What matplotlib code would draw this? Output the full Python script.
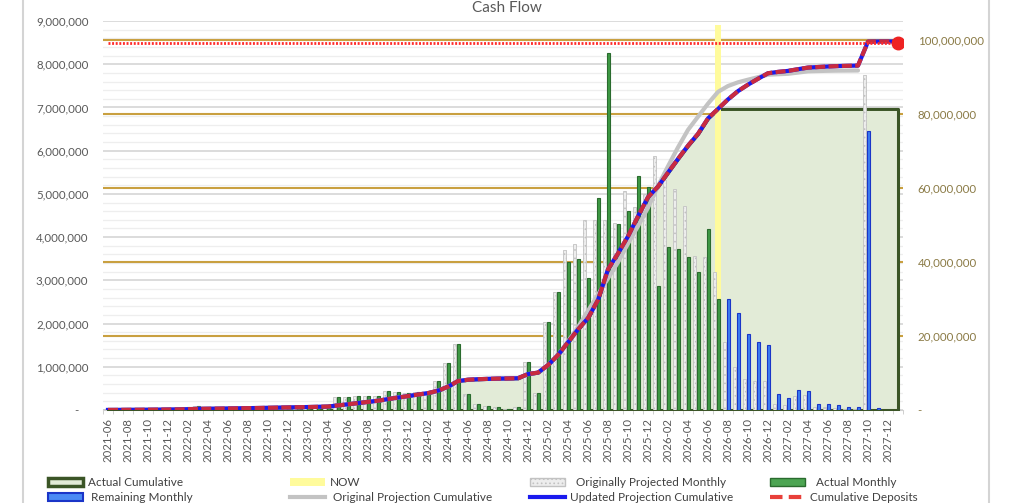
import numpy as np
import pandas as pd
import matplotlib
matplotlib.use('Agg')
import matplotlib.pyplot as plt
from matplotlib.lines import Line2D
from matplotlib.patches import Patch
from matplotlib.ticker import FuncFormatter, MultipleLocator

plt.rcParams['font.family'] = ['Lato', 'DejaVu Sans']
plt.rcParams['hatch.linewidth'] = 0.7

# --- data (values in millions) ---
months = pd.period_range('2021-06', '2028-01', freq='M').strftime('%Y-%m').tolist()

# Actual Monthly, 2021-06 .. 2026-07
actual_monthly = [
    0.02, 0.01, 0.02, 0.01, 0.02, 0.02, 0.03, 0.03, 0.06, 0.09, 0.03, 0.03,
    0.04, 0.04, 0.05, 0.04, 0.05, 0.05, 0.05, 0.06, 0.05, 0.06, 0.07,
    0.31, 0.31, 0.32, 0.32, 0.32, 0.44, 0.42, 0.39, 0.42, 0.38, 0.66, 1.08, 1.52,
    0.36, 0.14, 0.09, 0.08, 0.03, 0.07,
    1.12, 0.39, 2.03, 2.72, 3.43, 3.49, 3.06, 4.91, 8.27, 4.31, 4.61, 5.42, 5.17,
    2.87, 3.77, 3.72, 3.55, 3.20, 4.18, 2.56,
]
# Remaining Monthly, 2026-08 .. 2028-01
remaining_monthly = [
    2.57, 2.25, 1.75, 1.58, 1.50, 0.36, 0.27, 0.46, 0.44, 0.15, 0.14, 0.12,
    0.07, 0.06, 6.46, 0.04, 0.01, 0.0,
]
# Originally Projected Monthly: same as actual up to 2025-03, then
projected_later = [
    3.70, 3.84, 4.40, 4.40, 4.40, 4.32, 5.07, 4.70, 5.00,
    5.88, 5.32, 5.11, 4.72, 3.56, 3.53, 3.19, 1.58, 1.00, 0.71, 0.67, 0.67,
    0.13, 0.12, 0.33, 0.34, 0.08, 0.06, 0.04, 0.02, 0.02, 7.75, 0.0, 0.0,
    0.0,
]
projected_monthly = actual_monthly[:46] + projected_later
orig_line_end = '2027-09'
now_month = '2026-07'
now_height = 104.0
deposit_target = 99.3

# --- derived series ---
M = 1e6
x = np.arange(len(months))
n_act = len(actual_monthly)
actual = np.array(actual_monthly) * M
remaining = np.array(remaining_monthly) * M
projected = np.array(projected_monthly) * M
updated_cum = np.cumsum(np.concatenate([actual, remaining]))
actual_cum = updated_cum.copy()
actual_cum[n_act:] = actual_cum[n_act - 1]
n_orig = months.index(orig_line_end) + 1
orig_cum = np.cumsum(projected)[:n_orig]
now_i = months.index(now_month)

# --- figure ---
W, H = 1024, 503
fig = plt.figure(figsize=(W / 100, H / 100), dpi=100)
ax = fig.add_axes([103 / W, 1 - 410 / H, 800 / W, 389 / H])
ax_r = ax.twinx()
ax_b = ax.twinx()
ax_l = ax.twinx()
for i, a in enumerate([ax, ax_r, ax_b, ax_l]):
    a.set_zorder(i)
    for s in a.spines.values():
        s.set_visible(False)
    if i > 0:
        a.patch.set_visible(False)
ax.spines['bottom'].set_visible(True)
ax.spines['bottom'].set_color('#d0d0d0')

left_max = 9 * M
right_max = 105.14 * M
ax.set_xlim(-0.5, len(months) - 0.5)
ax.set_ylim(0, left_max)
ax_b.set_ylim(0, left_max)
ax_r.set_ylim(0, right_max)
ax_l.set_ylim(0, right_max)

fmt = FuncFormatter(lambda v, p: '-   ' if v == 0 else f'{v:,.0f}')

# left axis: grey grid + labels
ax.yaxis.set_major_locator(MultipleLocator(1 * M))
ax.yaxis.set_minor_locator(MultipleLocator(0.2 * M))
ax.yaxis.set_major_formatter(fmt)
ax.grid(axis='y', which='major', color='#d9d9d9', lw=1.3)
ax.grid(axis='y', which='minor', color='#eeeeee', lw=0.9)
ax.tick_params(axis='y', which='both', length=0, pad=10.5, labelsize=8.3,
               labelcolor='#595959')

# x axis
ax.set_xticks(x[::2])
ax.set_xticklabels(months[::2], rotation=90)
ax.set_xticks(np.arange(-0.5, len(months), 1), minor=True)
ax.tick_params(axis='x', which='major', length=0, pad=6, labelsize=8.2,
               labelcolor='#595959')
ax.tick_params(axis='x', which='minor', length=3, color='#c8c8c8')

# right axis: gold grid, area, NOW
right_ticks = np.arange(0, 101, 20) * M
ax_r.set_yticks(right_ticks)
ax_r.yaxis.set_major_formatter(fmt)
ax_r.tick_params(axis='y', length=0, pad=10.5, labelsize=8.3, labelcolor='#8a7a45')
for v in right_ticks[1:]:
    ax_r.axhline(v, color='#c9a040', lw=1.5, zorder=1)
ax_r.fill_between(x, 0, actual_cum, facecolor='#e2ebd7', edgecolor='#3b5526',
                  lw=2.2, zorder=2)
ax_r.bar(now_i, now_height * M, width=0.6, color='#fffb9c', zorder=3)

# bars
ax_b.set_yticks([])
ax_b.bar(x - 0.38, projected, width=0.28, facecolor='#ededed',
         edgecolor='#c2c2c2', hatch='....', lw=0.6)
ax_b.bar(x[:n_act] + 0.02, actual, width=0.3, facecolor='#3f9a45',
         edgecolor='#2a6b2e', lw=0.8)
ax_b.bar(x[n_act:] + 0.02, remaining, width=0.3, facecolor='#3b7df2',
         edgecolor='#1a35c8', lw=0.8)

# lines
ax_l.set_yticks([])
ax_l.plot(x[:n_orig], orig_cum, color='#c3c3c3', lw=3, solid_capstyle='round')
ax_l.plot(x, updated_cum, color='#1a1aee', lw=3)
ax_l.plot(x, updated_cum, color='#c82b40', lw=3, dashes=(2.4, 0.8))
ax_l.plot([x[0], x[-1]], [deposit_target * M] * 2, color='#ff2a2a', lw=2.0,
          dashes=(0.7, 0.6))
ax_l.plot(x[-1], deposit_target * M, 'o', ms=9, color='#ee2222')

# title
fig.text(507 / W, 1 - 1 / H, 'Cash Flow', ha='center', va='top',
         fontsize=11, color='#595959')

# frame lines
for fx in (23, 989):
    fig.add_artist(Line2D([fx / W, fx / W], [0, 1], color='#d4d4d4', lw=1.5))

# legend in four columns
h_ac = Patch(facecolor='#e2ebd7', edgecolor='#3b5526', lw=2.5)
h_rm = Patch(facecolor='#4a8af4', edgecolor='#1a35c8', lw=1.5)
h_now = Patch(facecolor='#fffb9c', edgecolor='none')
h_opc = Line2D([], [], color='#c3c3c3', lw=3)
h_opm = Patch(facecolor='#ededed', edgecolor='#c2c2c2', hatch='....')
h_upc = Line2D([], [], color='#1a1aee', lw=3)
h_am = Patch(facecolor='#4ca552', edgecolor='#2a6b2e')
h_cd = Line2D([], [], color='#e8403a', lw=3, dashes=(3, 1.5))

cols = [
    (48, [h_ac, h_rm], ['Actual Cumulative', ' Remaining Monthly']),
    (290, [h_now, h_opc], ['NOW', ' Original Projection Cumulative']),
    (530, [h_opm, h_upc], ['  Originally Projected Monthly', 'Updated Projection Cumulative']),
    (770, [h_am, h_cd], ['  Actual Monthly', 'Cumulative Deposits']),
]
for x0, hs, ls in cols:
    fig.legend(hs, ls, loc='upper left', bbox_to_anchor=(x0 / W, 1 - 477 / H),
               frameon=False, fontsize=8.5, handlelength=3.0, handletextpad=0.4,
               labelspacing=0.35, borderpad=0, borderaxespad=0, labelcolor='#404040')

fig.savefig('out.png', dpi=100)
